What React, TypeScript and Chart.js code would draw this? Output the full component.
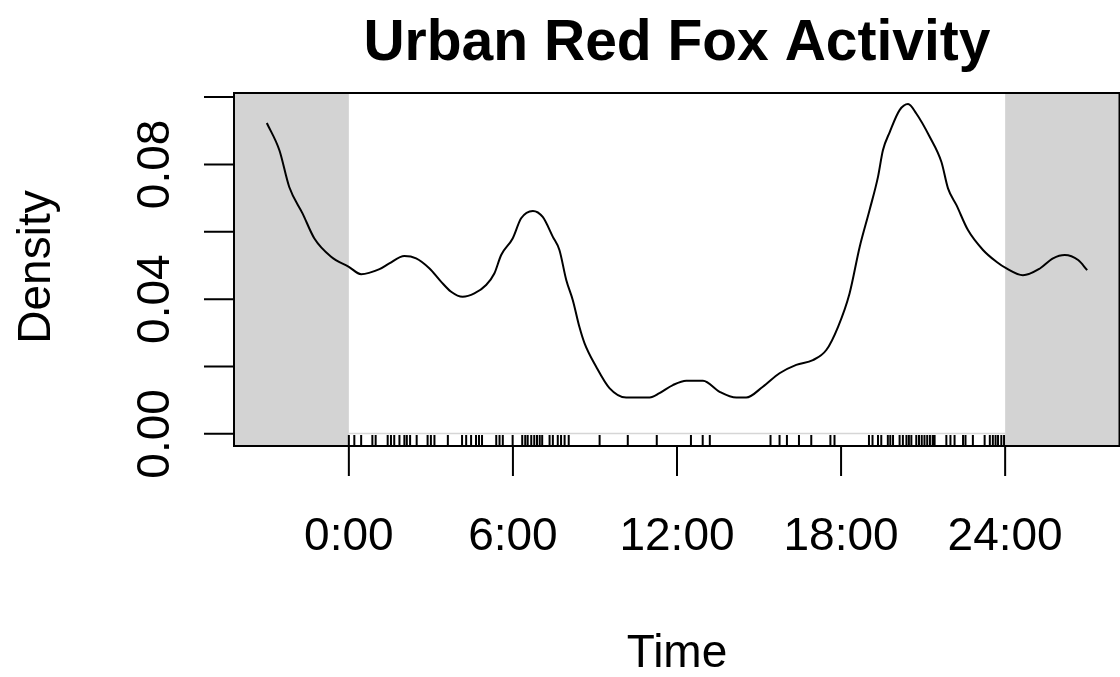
import React, { useEffect, useRef } from "react";
import { Chart, registerables } from "chart.js";

Chart.register(...registerables);

// Density curve (hours, density)
const hours = [
  -3.0, -2.54, -2.18, -1.69, -1.26, -0.65, 0.0, 0.45, 1.12, 1.48, 2.03, 2.46, 2.95, 3.37, 3.74, 4.16,
  4.59, 5.02, 5.32, 5.57, 5.99, 6.3, 6.73, 7.09, 7.46, 7.7, 7.95, 8.19, 8.43, 8.62, 9.04, 9.53,
  10.14, 11.0, 11.36, 11.85, 12.34, 12.95, 13.56, 14.17, 14.53, 15.14, 15.75, 16.36, 16.97, 17.46,
  17.89, 18.31, 18.68, 19.04, 19.35, 19.53, 19.78, 20.14, 20.45, 20.75, 21.24, 21.67, 21.91, 22.22,
  22.64, 23.19, 23.68, 24.05, 24.65, 25.27, 25.75, 26.18, 26.67, 27.0,
];
const density = [
  0.0923, 0.0842, 0.0733, 0.0654, 0.058, 0.0526, 0.0496, 0.0474, 0.0489, 0.0506, 0.0528, 0.0521,
  0.0491, 0.0452, 0.0422, 0.0407, 0.0417, 0.0442, 0.0476, 0.0531, 0.058, 0.064, 0.0662, 0.0644,
  0.0585, 0.0546, 0.0457, 0.0397, 0.0318, 0.0269, 0.02, 0.0136, 0.0108, 0.0108, 0.0121, 0.0145,
  0.0158, 0.0158, 0.0125, 0.0108, 0.0108, 0.014, 0.018, 0.0205, 0.0219, 0.0249, 0.0318, 0.0417,
  0.0555, 0.0664, 0.0763, 0.0842, 0.0896, 0.0961, 0.0979, 0.0951, 0.0882, 0.0807, 0.0729, 0.0679,
  0.0605, 0.0546, 0.0511, 0.0491, 0.0471, 0.0491, 0.0521, 0.0531, 0.0516, 0.0486,
];

// Rug: observation times (hours)
const rugTimes = [
  0.0, 0.2, 0.45, 0.86, 0.98, 1.42, 1.54, 1.66, 1.85, 2.03, 2.12, 2.24, 2.48, 2.88, 3.0, 3.13, 3.62,
  4.14, 4.29, 4.47, 4.65, 4.76, 4.87, 5.39, 5.51, 5.63, 5.99, 6.34, 6.45, 6.54, 6.67, 6.78, 6.88,
  6.98, 7.07, 7.34, 7.46, 7.64, 7.76, 7.89, 8.04, 9.17, 10.2, 11.26, 12.51, 12.94, 13.2, 15.42,
  15.75, 16.02, 16.46, 16.91, 17.61, 17.76, 19.02, 19.15, 19.35, 19.47, 19.71, 19.8, 19.9, 20.14,
  20.26, 20.39, 20.48, 20.57, 20.75, 20.85, 20.95, 21.05, 21.15, 21.25, 21.35, 21.42, 21.85, 22.0,
  22.15, 22.46, 22.55, 22.82, 23.25, 23.44, 23.55, 23.65, 23.74, 23.86, 23.96,
];

const xTickValues = [0, 6, 12, 18, 24];
const xTickLabels = ["0:00", "6:00", "12:00", "18:00", "24:00"];
const yTickValues = [0, 0.02, 0.04, 0.06, 0.08, 0.1];
const yLabelValues = [0, 0.04, 0.08];
const yLabelTexts = ["0.00", "0.04", "0.08"];

const FONT = '"Liberation Sans", Arial, Helvetica, sans-serif';

const rPlotPlugin = {
  id: "rPlot",
  beforeDatasetsDraw(chart: any) {
    const { ctx, chartArea: a, scales } = chart;
    const xs = scales.x;
    const ys = scales.y;
    ctx.save();
    ctx.fillStyle = "#d3d3d3";
    const x0 = xs.getPixelForValue(0);
    const x24 = xs.getPixelForValue(24);
    ctx.fillRect(a.left, a.top, x0 - a.left, a.bottom - a.top);
    ctx.fillRect(x24, a.top, a.right - x24, a.bottom - a.top);
    // faint line above the rug
    ctx.strokeStyle = "#d6d6d6";
    ctx.lineWidth = 1.5;
    const yz = Math.round(ys.getPixelForValue(0)) - 0.5;
    ctx.beginPath();
    ctx.moveTo(x0, yz);
    ctx.lineTo(x24, yz);
    ctx.stroke();
    ctx.restore();
  },
  afterDatasetsDraw(chart: any) {
    const { ctx, chartArea: a, scales } = chart;
    const xs = scales.x;
    const ys = scales.y;
    ctx.save();
    // rug
    ctx.strokeStyle = "#000";
    ctx.lineWidth = 2;
    const rugLen = (a.bottom - a.top) * 0.031;
    ctx.beginPath();
    for (const t of rugTimes) {
      const px = xs.getPixelForValue(t);
      ctx.moveTo(px, a.bottom);
      ctx.lineTo(px, a.bottom - rugLen);
    }
    ctx.stroke();

    // box
    ctx.lineWidth = 2;
    ctx.strokeStyle = "#000";
    ctx.strokeRect(a.left, a.top, a.right - 0.5 - a.left, a.bottom - a.top);

    // x axis ticks
    ctx.beginPath();
    for (const v of xTickValues) {
      const px = xs.getPixelForValue(v);
      ctx.moveTo(px, a.bottom);
      ctx.lineTo(px, a.bottom + 30);
    }
    // y axis ticks
    for (const v of yTickValues) {
      const py = ys.getPixelForValue(v);
      ctx.moveTo(a.left, py);
      ctx.lineTo(a.left - 30, py);
    }
    ctx.stroke();

    ctx.fillStyle = "#000";
    ctx.font = `46px ${FONT}`;
    ctx.textAlign = "center";
    ctx.textBaseline = "alphabetic";
    xTickValues.forEach((v, i) => {
      ctx.fillText(xTickLabels[i], xs.getPixelForValue(v), 550);
    });
    yLabelValues.forEach((v, i) => {
      ctx.save();
      ctx.translate(169, ys.getPixelForValue(v));
      ctx.rotate(-Math.PI / 2);
      ctx.fillText(yLabelTexts[i], 0, 0);
      ctx.restore();
    });

    // axis titles
    ctx.fillText("Time", (a.left + a.right) / 2, 667);
    ctx.save();
    ctx.translate(50, 267);
    ctx.rotate(-Math.PI / 2);
    ctx.fillText("Density", 0, 0);
    ctx.restore();

    // main title
    ctx.font = `bold 57px ${FONT}`;
    ctx.fillText("Urban Red Fox Activity", (a.left + a.right) / 2, 60);
    ctx.restore();
  },
};

export default function App() {
  const ref = useRef<HTMLCanvasElement | null>(null);
  useEffect(() => {
    document.body.style.margin = "0";
    const canvas = ref.current!;
    const chart = new Chart(canvas, {
      type: "line",
      data: {
        datasets: [
          {
            data: hours.map((h, i) => ({ x: h, y: density[i] })),
            borderColor: "#000",
            borderWidth: 2,
            pointRadius: 0,
            fill: false,
            cubicInterpolationMode: "monotone",
          },
        ],
      },
      options: {
        animation: false,
        responsive: false,
        devicePixelRatio: 1,
        layout: { padding: { left: 234, top: 93, right: 0, bottom: 231 } },
        scales: {
          x: { type: "linear", min: -4.2, max: 28.2, display: false },
          y: { type: "linear", min: -0.0036, max: 0.1012, display: false },
        },
        plugins: {
          legend: { display: false },
          tooltip: { enabled: false },
          title: { display: false },
        },
        events: [],
      },
      plugins: [rPlotPlugin],
    });
    return () => chart.destroy();
  }, []);
  return (
    <div style={{ position: "absolute", left: 0, top: 0, width: 1120, height: 677, background: "#fff" }}>
      <canvas ref={ref} width={1120} height={677} style={{ width: 1120, height: 677, display: "block" }} />
    </div>
  );
}
